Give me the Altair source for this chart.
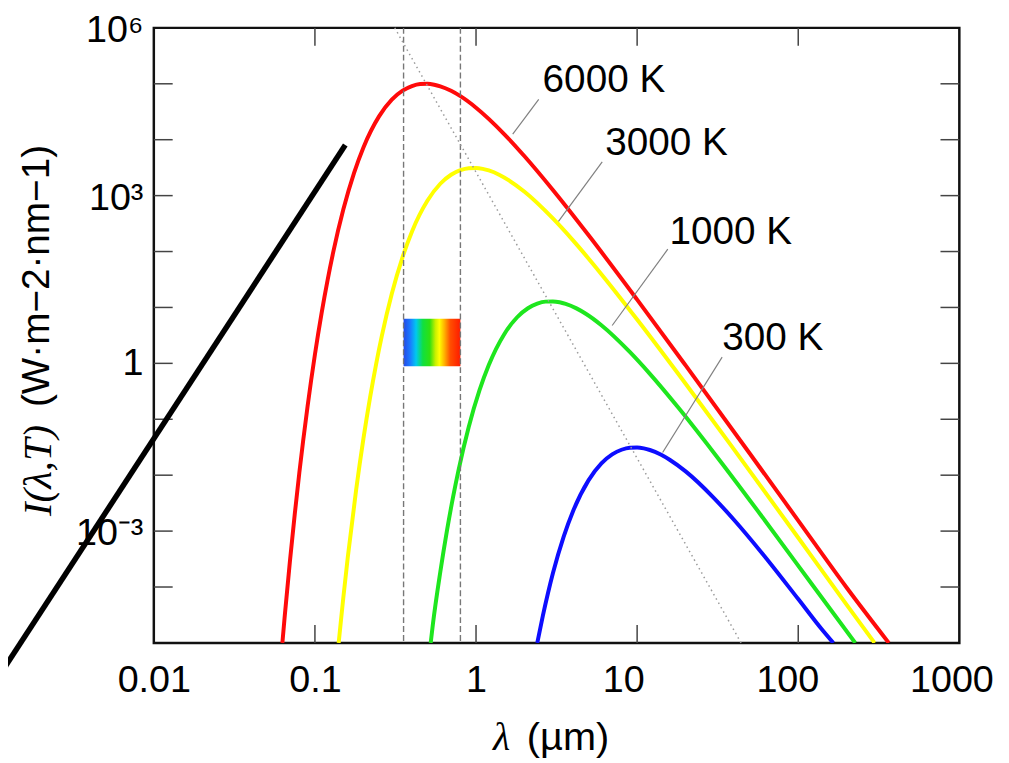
import altair as alt
import pandas as pd

# ---------------- data ----------------
lam_6000 = [0.0628, 0.065, 0.07, 0.075, 0.08, 0.09, 0.1, 0.11, 0.12, 0.13, 0.15, 0.175, 0.2, 0.25,
            0.3, 0.35, 0.4, 0.45, 0.5, 0.55, 0.6, 0.7, 0.8, 1.0, 1.5, 2, 3, 5, 10, 20, 50, 100, 200, 365]
I_6000 = [1.0e-5, 3.1e-5, 2.95e-4, 2.04e-3, 1.10e-2, 0.170, 1.44, 7.9, 31.5, 98.3, 562, 2550, 7260, 26100,
          52000, 75300, 91200, 98900, 99800, 96200, 90100, 74800, 60000, 37400, 12500, 5050, 1260, 195,
          13.8, 0.918, 0.0244, 1.54e-3, 9.7e-5, 1.0e-5]

lam_3000 = [0.1404, 0.145, 0.15, 0.16, 0.18, 0.2, 0.22, 0.24, 0.26, 0.3, 0.35, 0.4, 0.5, 0.6, 0.7, 0.8,
            0.9, 1.0, 1.1, 1.2, 1.4, 1.6, 2, 3, 4, 6, 10, 20, 40, 100, 200, 298]
I_3000 = [1.0e-5, 2.5e-5, 6.4e-5, 3.43e-4, 5.31e-3, 0.045, 0.247, 0.984, 3.07, 17.6, 79.8, 227, 817, 1630,
          2360, 2850, 3090, 3120, 3010, 2820, 2340, 1870, 1170, 390, 158, 39.4, 6.08, 0.432, 0.0287,
          7.6e-4, 4.8e-5, 1.0e-5]

lam_1000 = [0.523, 0.54, 0.6, 0.66, 0.72, 0.78, 0.9, 1.05, 1.2, 1.5, 1.8, 2.1, 2.4, 2.7, 3.0, 3.3, 3.6,
            4.2, 4.8, 6, 9, 12, 18, 30, 60, 120, 226]
I_1000 = [1.0e-5, 2.18e-5, 1.85e-4, 1.02e-3, 4.05e-3, 0.0126, 0.0723, 0.328, 0.933, 3.36, 6.68, 9.68,
          11.7, 12.7, 12.8, 12.4, 11.6, 9.62, 7.71, 4.81, 1.60, 0.649, 0.162, 0.025, 1.77e-3, 1.18e-4, 1.0e-5]

lam_300 = [2.4, 2.6, 2.8, 3, 3.5, 4, 5, 6, 7, 8, 9, 10, 11, 12, 14, 16, 20, 30, 40, 60, 100, 140, 165]
I_300 = [1.0e-5, 3.07e-5, 7.9e-5, 1.76e-4, 7.98e-4, 2.27e-3, 8.17e-3, 0.0163, 0.0236, 0.0285, 0.0309,
         0.0312, 0.0301, 0.0282, 0.0234, 0.0187, 0.0117, 3.9e-3, 1.58e-3, 3.94e-4, 6.08e-5, 1.75e-5, 1.0e-5]

series_names = ["6000 K", "3000 K", "1000 K", "300 K"]
series_colors = ["#ff0a0a", "#ffff00", "#1ee61e", "#0d0dff"]

# temperature labels and their leader lines
label_lam = [2.59, 6.34, 15.9, 33.7]
label_I = [70300, 5360, 135.6, 1.71]
leader_lam_a = [2.45, 6.07, 15.5, 33.7]
leader_I_a = [52800, 4025, 110, 1.29]
leader_lam_b = [1.69, 3.25, 7.0, 14.4]
leader_I_b = [12600, 347, 4.75, 0.0255]

# Wien displacement (dotted) line
wien_lam = [0.313, 44.2]
wien_I = [1.0e6, 1.0e-5]

# visible band (dashed limits and spectrum swatch)
vis_lam = [0.355, 0.80]
vis_I = [0.89, 6.3]

# stray black stroke over the figure
stray_lam = [0.000964, 0.1543]
stray_I = [1.46e-6, 8050]

x_tick_values = [0.01, 0.1, 1, 10, 100, 1000]
x_tick_labels = ["0.01", "0.1", "1", "10", "100", "1000"]
y_tick_values = [0.001, 1, 1000, 1000000]
y_tick_labels = ["10⁻³", "1", "10³", "10⁶"]
x_minor_ticks = [0.1, 1, 10, 100]
y_minor_ticks = [1e-4, 1e-3, 1e-2, 1e-1, 1, 10, 100, 1e3, 1e4, 1e5]

# ---------------- style ----------------
W, H = 812, 620
SANS = "Liberation Sans"
SERIF = "Liberation Serif"
X_LABEL_SHIFT = {10: -14, 100: -11, 1000: -8}   # pixel nudges of some x tick labels
Y_LABEL_SHIFT = 3                                # pixel nudge of power-of-ten y labels

xs = alt.Scale(type="log", domain=[0.01, 1000], nice=False)
ys = alt.Scale(type="log", domain=[1e-5, 1e6], nice=False)


def test(v):
    return f"abs(datum.value - {v}) < {v} * 1e-6"


def label_expr(vals, labs):
    parts = [f"{test(v)} ? '{l}'" for v, l in zip(vals, labs)]
    return " : ".join(parts) + " : ''"


x_offset = {"condition": [{"test": test(v), "value": s} for v, s in X_LABEL_SHIFT.items()], "value": 0}
y_offset = {"condition": {"test": test(1), "value": 0}, "value": Y_LABEL_SHIFT}

x_axis = alt.Axis(values=x_tick_values, labelExpr=label_expr(x_tick_values, x_tick_labels),
                  ticks=False, domain=False, grid=False, title=None, labelFont=SANS,
                  labelFontSize=38, labelColor="black", labelPadding=19, labelFlush=False,
                  labelOverlap=False, labelOffset=x_offset)
y_axis = alt.Axis(values=y_tick_values, labelExpr=label_expr(y_tick_values, y_tick_labels),
                  ticks=False, domain=False, grid=False, title=None, labelFont=SANS,
                  labelFontSize=38, labelColor="black", labelPadding=11, labelFlush=False,
                  labelOverlap=False, labelOffset=y_offset)


def X(field):
    return alt.X(field, scale=xs, axis=x_axis)


def Y(field):
    return alt.Y(field, scale=ys, axis=y_axis)


rows = []
for name, lams, vals in zip(series_names, [lam_6000, lam_3000, lam_1000, lam_300],
                            [I_6000, I_3000, I_1000, I_300]):
    for l, v in zip(lams, vals):
        rows.append({"lam": l, "I": v, "T": name})
curves_df = pd.DataFrame(rows)

curves = alt.Chart(curves_df).mark_line(strokeWidth=4, interpolate="monotone", clip=True).encode(
    x=X("lam:Q"),
    y=Y("I:Q"),
    color=alt.Color("T:N", scale=alt.Scale(domain=series_names, range=series_colors), legend=None),
    detail="T:N",
)

swatch_df = pd.DataFrame({"lam": [vis_lam[0]], "l2": [vis_lam[1]], "I": [vis_I[0]], "i2": [vis_I[1]]})
gradient = alt.LinearGradient(
    gradient="linear", x1=0, x2=1, y1=0, y2=0,
    stops=[
        alt.GradientStop(offset=0.0, color="#2448e8"),
        alt.GradientStop(offset=0.12, color="#1a7cff"),
        alt.GradientStop(offset=0.22, color="#00c8f0"),
        alt.GradientStop(offset=0.34, color="#10e040"),
        alt.GradientStop(offset=0.46, color="#30e010"),
        alt.GradientStop(offset=0.56, color="#c8f000"),
        alt.GradientStop(offset=0.63, color="#ffff00"),
        alt.GradientStop(offset=0.72, color="#ffb000"),
        alt.GradientStop(offset=0.82, color="#ff5000"),
        alt.GradientStop(offset=1.0, color="#ff1a00"),
    ],
)
swatch = alt.Chart(swatch_df).mark_rect(color=gradient).encode(
    x=X("lam:Q"), x2="l2:Q", y=Y("I:Q"), y2="i2:Q",
)

vis_df = pd.DataFrame({"lam": vis_lam})
vis_lines = alt.Chart(vis_df).mark_rule(color="#777777", strokeWidth=1.4, strokeDash=[6, 3]).encode(
    x=X("lam:Q"), y=alt.value(0), y2=alt.value(H)
)

wien_df = pd.DataFrame({"lam": [wien_lam[0]], "l2": [wien_lam[1]], "I": [wien_I[0]], "i2": [wien_I[1]]})
wien = alt.Chart(wien_df).mark_rule(color="#9a9a9a", strokeWidth=1.5, strokeDash=[1.5, 3.5]).encode(
    x=X("lam:Q"), x2="l2:Q", y=Y("I:Q"), y2="i2:Q",
)

lead_df = pd.DataFrame({"lam": leader_lam_a, "I": leader_I_a, "l2": leader_lam_b, "i2": leader_I_b})
leaders = alt.Chart(lead_df).mark_rule(color="#808080", strokeWidth=1.2).encode(
    x=X("lam:Q"), x2="l2:Q", y=Y("I:Q"), y2="i2:Q",
)

lab_df = pd.DataFrame({"lam": label_lam, "I": label_I, "txt": series_names})
labels = alt.Chart(lab_df).mark_text(align="left", baseline="alphabetic", font=SANS, fontSize=39,
                                     color="black").encode(
    x=X("lam:Q"), y=Y("I:Q"), text="txt:N"
)

xt_df = pd.DataFrame({"lam": x_minor_ticks})
xt_bottom = alt.Chart(xt_df).mark_rule(color="#444444", strokeWidth=1.5).encode(
    x=X("lam:Q"), y=alt.value(H), y2=alt.value(H - 18))
xt_top = alt.Chart(xt_df).mark_rule(color="#444444", strokeWidth=1.5).encode(
    x=X("lam:Q"), y=alt.value(0), y2=alt.value(18))
yt_df = pd.DataFrame({"I": y_minor_ticks})
yt_left = alt.Chart(yt_df).mark_rule(color="#444444", strokeWidth=1.5).encode(
    y=Y("I:Q"), x=alt.value(0), x2=alt.value(19))
yt_right = alt.Chart(yt_df).mark_rule(color="#444444", strokeWidth=1.5).encode(
    y=Y("I:Q"), x=alt.value(W), x2=alt.value(W - 19))

stray_df = pd.DataFrame({"lam": [stray_lam[0]], "l2": [stray_lam[1]], "I": [stray_I[0]], "i2": [stray_I[1]]})
stray = alt.Chart(stray_df).mark_rule(color="black", strokeWidth=5.5, strokeCap="butt").encode(
    x=X("lam:Q"), x2="l2:Q", y=Y("I:Q"), y2="i2:Q",
)

one = pd.DataFrame({"k": [0]})
ytitle_a = alt.Chart(one).mark_text(align="left", baseline="alphabetic", angle=270, font=SERIF,
                                    fontStyle="italic", fontSize=41, color="black").encode(
    x=alt.value(-104), y=alt.value(492), text=alt.value("I(λ,T)"))
ytitle_b = alt.Chart(one).mark_text(align="right", baseline="alphabetic", angle=270, font=SANS,
                                    fontSize=39, color="black").encode(
    x=alt.value(-106), y=alt.value(118), text=alt.value("(W·m−2·nm−1)"))
xtitle_a = alt.Chart(one).mark_text(align="left", baseline="alphabetic", font=SERIF,
                                    fontStyle="italic", fontSize=40, color="black").encode(
    x=alt.value(342), y=alt.value(728), text=alt.value("λ"))
xtitle_b = alt.Chart(one).mark_text(align="left", baseline="alphabetic", font=SANS,
                                    fontSize=40, color="black").encode(
    x=alt.value(376), y=alt.value(728), text=alt.value("(µm)"))

chart = alt.layer(
    curves, swatch, vis_lines, wien, leaders, labels,
    xt_bottom, xt_top, yt_left, yt_right, stray,
    ytitle_a, ytitle_b, xtitle_a, xtitle_b,
).properties(
    width=W, height=H,
    autosize=alt.AutoSizeParams(type="none"),
    padding={"left": 147, "top": 17, "right": 42, "bottom": 118},
).configure_view(stroke="#111111", strokeWidth=2.5)

chart.save("out.html", embed_options={"renderer": "svg", "actions": False})
